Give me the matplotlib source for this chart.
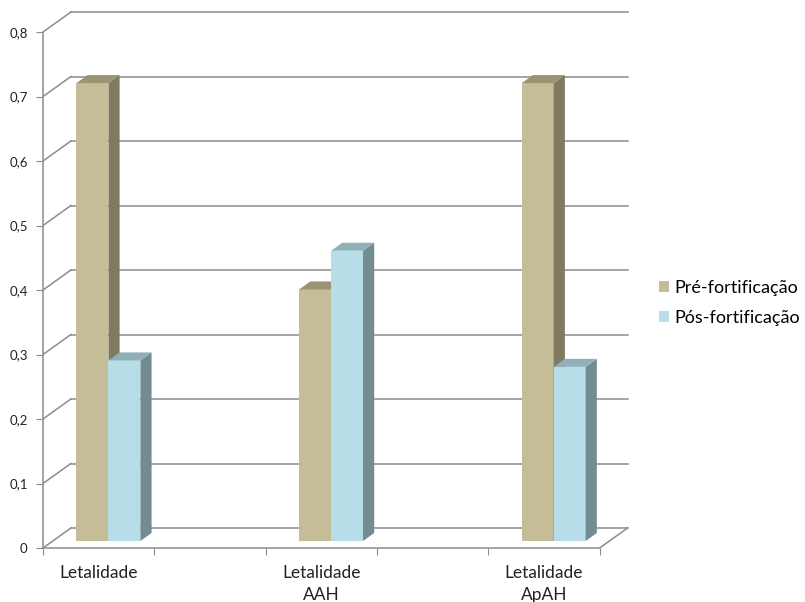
import matplotlib.pyplot as plt
from matplotlib.patches import Polygon, Rectangle

plt.rcParams['font.family'] = ['Lato', 'DejaVu Sans']

categories = ['Letalidade', '', 'Letalidade\nAAH', '', 'Letalidade\nApAH']
pre = [0.71, None, 0.39, None, 0.71]
pos = [0.28, None, 0.45, None, 0.27]
series_names = ['Pré-fortificação', 'Pós-fortificação']
yticks = [0, 0.1, 0.2, 0.3, 0.4, 0.5, 0.6, 0.7, 0.8]

# oblique depth offsets (data units) for the pseudo-3D look
DX, DY = 0.251, 0.031
GRID = '#8c8c8c'
colors = {
    'pre': ('#c4bd97', '#9a9474', '#807b60'),   # front, top, side
    'pos': ('#b7dee8', '#8fb0b8', '#728c92'),
}
BAR_W = 0.287
D0, D1 = 0.35, 0.75


def proj(x, y, d):
    return (x + d * DX, y + d * DY)


def draw_bar(ax, x0, value, cols):
    front, top, side = cols
    x1 = x0 + BAR_W
    ax.add_patch(Polygon([proj(x0, 0, D0), proj(x1, 0, D0), proj(x1, value, D0), proj(x0, value, D0)],
                         closed=True, facecolor=front, edgecolor='none', zorder=3))
    ax.add_patch(Polygon([proj(x1, 0, D0), proj(x1, 0, D1), proj(x1, value, D1), proj(x1, value, D0)],
                         closed=True, facecolor=side, edgecolor='none', zorder=3))
    ax.add_patch(Polygon([proj(x0, value, D0), proj(x1, value, D0), proj(x1, value, D1), proj(x0, value, D1)],
                         closed=True, facecolor=top, edgecolor='none', zorder=3))


fig = plt.figure(figsize=(8.05, 6.02), dpi=100)
ax = fig.add_axes([43 / 805, 54 / 602, 590 / 805, 541.8 / 602])
n = len(categories)
ax.set_xlim(0, 5.3)
ax.set_ylim(0, 0.84)

# back wall gridlines, side wall connectors
for v in yticks:
    ax.plot([DX, n + DX], [v + DY, v + DY], color=GRID, lw=1.1, zorder=1)
    ax.plot([0, DX], [v, v + DY], color=GRID, lw=1.1, zorder=1)
# floor right edge
ax.plot([n, n + DX], [0, DY], color=GRID, lw=1.1, zorder=1)

for i in range(n):
    c = i + 0.5
    if pre[i] is not None:
        draw_bar(ax, c - BAR_W, pre[i], colors['pre'])
    if pos[i] is not None:
        draw_bar(ax, c, pos[i], colors['pos'])

for side in ['top', 'right']:
    ax.spines[side].set_visible(False)
for side in ['left', 'bottom']:
    ax.spines[side].set_color(GRID)
    ax.spines[side].set_linewidth(1.1)
ax.spines['left'].set_bounds(0, 0.8)
ax.spines['bottom'].set_bounds(0, n)

ax.set_yticks(yticks)
ax.set_yticklabels([('%.1f' % v).replace('.', ',') if v else '0' for v in yticks])
ax.set_xticks(range(n + 1))
ax.set_xticklabels([])
ax.set_xticks([i + 0.5 for i in range(n)], minor=True)
ax.set_xticklabels(categories, minor=True, linespacing=1.45)
ax.tick_params(axis='y', length=5, color=GRID, labelsize=9.5, labelcolor='#222222', pad=6)
ax.tick_params(axis='x', which='major', length=5, color=GRID)
ax.tick_params(axis='x', which='minor', length=0, labelsize=12.5, labelcolor='#222222', pad=12)

handles = [Rectangle((0, 0), 1, 1, facecolor=colors['pre'][0]),
           Rectangle((0, 0), 1, 1, facecolor=colors['pos'][0])]
fig.legend(handles, series_names, loc='center left', bbox_to_anchor=(659 / 805, 1 - 303 / 602),
           frameon=False, fontsize=13, handlelength=0.57, handleheight=0.57, handletextpad=0.3,
           labelspacing=0.75, borderaxespad=0, borderpad=0)

fig.savefig('out.png', dpi=100)
